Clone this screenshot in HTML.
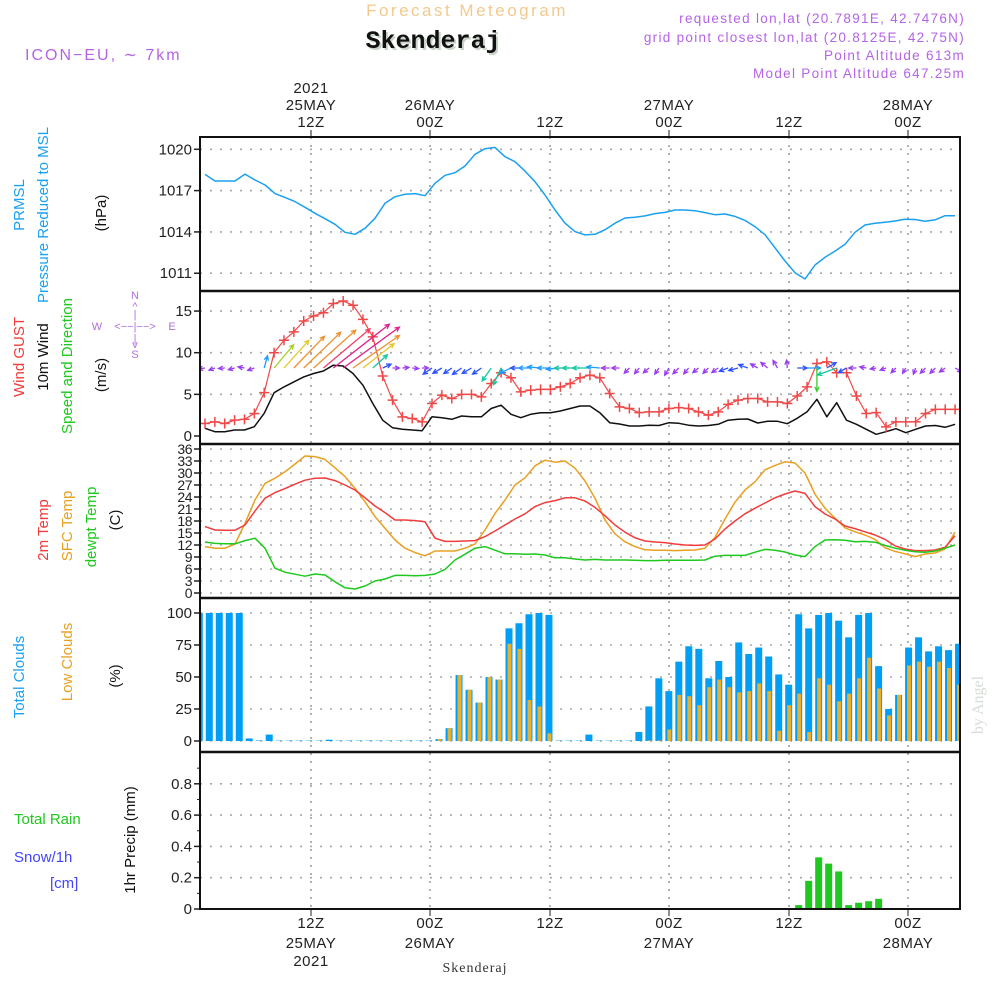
<!DOCTYPE html>
<html><head><meta charset="utf-8"><title>Meteogram Skenderaj</title>
<style>
html,body{margin:0;padding:0;background:#fff;}
svg{display:block;font-family:"Liberation Sans",sans-serif;}
.tk{font-size:15px;fill:#222;text-anchor:end;}
.tt{font-size:15px;fill:#222;text-anchor:middle;letter-spacing:0.5px;}
.lab{font-size:15px;}
</style></head>
<body>
<svg id="chart" width="1000" height="1000" viewBox="0 0 1000 1000" xmlns="http://www.w3.org/2000/svg">
<rect x="0" y="0" width="1000" height="1000" fill="#fff"/>
<text x="467" y="16" text-anchor="middle" font-size="17" fill="#f3c98e" letter-spacing="2.5">Forecast Meteogram</text>
<text x="435" y="50" text-anchor="middle" font-size="25" font-weight="bold" fill="#c8d4c8" font-family="Liberation Mono, monospace">Skenderaj</text>
<text x="433" y="48" text-anchor="middle" font-size="25" font-weight="bold" fill="#111" font-family="Liberation Mono, monospace">Skenderaj</text>
<text x="25" y="60" font-size="16" fill="#b464e6" letter-spacing="2">ICON−EU, ∼ 7km</text>
<g font-size="13.5" fill="#b464e6" text-anchor="end" letter-spacing="1.3">
<text x="965" y="23">requested lon,lat (20.7891E, 42.7476N)</text>
<text x="965" y="42">grid point closest lon,lat (20.8125E, 42.75N)</text>
<text x="965" y="60">Point Altitude 613m</text>
<text x="965" y="78">Model Point Altitude 647.25m</text>
</g>
<g class="tt">
<text class="tt" x="311" y="93">2021</text>
<text class="tt" x="311" y="110">25MAY</text>
<text class="tt" x="311" y="127">12Z</text>
<text class="tt" x="430" y="110">26MAY</text>
<text class="tt" x="430" y="127">00Z</text>
<text class="tt" x="550" y="127">12Z</text>
<text class="tt" x="669" y="110">27MAY</text>
<text class="tt" x="669" y="127">00Z</text>
<text class="tt" x="789" y="127">12Z</text>
<text class="tt" x="908" y="110">28MAY</text>
<text class="tt" x="908" y="127">00Z</text>
</g>
<g>
<text class="tt" x="311" y="928">12Z</text>
<text class="tt" x="311" y="948">25MAY</text>
<text class="tt" x="311" y="966">2021</text>
<text class="tt" x="430" y="928">00Z</text>
<text class="tt" x="430" y="948">26MAY</text>
<text class="tt" x="550" y="928">12Z</text>
<text class="tt" x="669" y="928">00Z</text>
<text class="tt" x="669" y="948">27MAY</text>
<text class="tt" x="789" y="928">12Z</text>
<text class="tt" x="908" y="928">00Z</text>
<text class="tt" x="908" y="948">28MAY</text>
<text x="475" y="972" text-anchor="middle" font-size="14" fill="#333" font-family="Liberation Serif, serif" letter-spacing="1">Skenderaj</text>
</g>
<g class="lab">
<text transform="translate(24,205) rotate(-90)" text-anchor="middle" fill="#1aa0f0">PRMSL</text>
<text transform="translate(48,215) rotate(-90)" text-anchor="middle" fill="#1aa0f0">Pressure Reduced to MSL</text>
<text transform="translate(106,213) rotate(-90)" text-anchor="middle" fill="#111">(hPa)</text>
<text transform="translate(24,357) rotate(-90)" text-anchor="middle" fill="#f03c3c">Wind GUST</text>
<text transform="translate(48,357) rotate(-90)" text-anchor="middle" fill="#111">10m Wind</text>
<text transform="translate(72,366) rotate(-90)" text-anchor="middle" fill="#1ec81e">Speed and Direction</text>
<text transform="translate(106,375) rotate(-90)" text-anchor="middle" fill="#111">(m/s)</text>
<text transform="translate(48,530) rotate(-90)" text-anchor="middle" fill="#f03c3c">2m Temp</text>
<text transform="translate(72,526) rotate(-90)" text-anchor="middle" fill="#e8a020">SFC Temp</text>
<text transform="translate(96,527) rotate(-90)" text-anchor="middle" fill="#1ec81e">dewpt Temp</text>
<text transform="translate(120,520) rotate(-90)" text-anchor="middle" fill="#111">(C)</text>
<text transform="translate(24,677) rotate(-90)" text-anchor="middle" fill="#1aa0f0">Total Clouds</text>
<text transform="translate(72,662) rotate(-90)" text-anchor="middle" fill="#e8a020">Low Clouds</text>
<text transform="translate(120,676) rotate(-90)" text-anchor="middle" fill="#111">(%)</text>
<text x="14" y="824" fill="#1ec81e">Total  Rain</text>
<text x="14" y="862" fill="#4444ff">Snow/1h</text>
<text x="50" y="888" fill="#4444ff">[cm]</text>
<text transform="translate(135,840) rotate(-90)" text-anchor="middle" fill="#111">1hr Precip (mm)</text>
</g>
<g font-size="11" fill="#b070e0" text-anchor="middle">
<text x="135" y="299">N</text><text x="135" y="310">^</text><text x="135" y="318">|</text>
<text x="97" y="330">W</text><text x="135" y="330">&lt;−−|−−&gt;</text><text x="172" y="330">E</text>
<text x="135" y="342">|</text><text x="135" y="348">v</text><text x="135" y="358">S</text>
</g>
<text transform="translate(983,705) rotate(-90)" text-anchor="middle" font-size="16" fill="#d6dcd6" font-family="Liberation Serif, serif">by Angel</text>
<g id="plot"></g>
</svg>
<script>
const pressure = [1018.18,1017.70,1017.70,1017.70,1018.20,1017.77,1017.41,1016.78,1016.51,1016.20,1015.79,1015.35,1014.96,1014.55,1013.97,1013.83,1014.26,1014.99,1016.08,1016.56,1016.73,1016.78,1016.63,1017.53,1018.11,1018.30,1018.79,1019.64,1020.04,1020.14,1019.46,1019.10,1018.42,1017.65,1016.68,1015.59,1014.63,1014.02,1013.78,1013.83,
1014.16,1014.63,1015.01,1015.06,1015.16,1015.33,1015.42,1015.59,1015.59,1015.54,1015.40,1015.25,1015.30,1015.13,1014.84,1014.38,1013.80,1012.85,1011.89,1011.04,1010.58,1011.60,1012.16,1012.61,1013.10,1013.97,1014.50,1014.63,1014.70,1014.79,1014.92,1014.90,1014.77,1014.87,1015.18,1015.18];
const gust = [1.5,1.7,1.5,1.9,2.0,2.7,5.2,10.0,11.5,12.5,13.8,14.4,14.8,15.9,16.2,15.7,14.0,11.9,7.2,4.3,2.3,2.1,1.7,3.9,4.9,4.5,5.0,5.0,4.7,6.3,7.6,7.0,5.3,5.5,5.6,5.6,5.9,6.3,7.0,7.3,
7.0,5.1,3.5,3.3,2.8,2.9,2.9,3.3,3.4,3.3,2.9,2.5,2.9,3.8,4.3,4.5,4.5,4.1,4.1,3.9,4.8,5.9,8.7,8.9,7.6,7.6,4.8,2.7,2.8,1.1,1.7,1.7,1.7,2.7,3.2,3.2,3.2];
const wind = [0.92,0.52,0.52,0.72,0.72,1.12,2.72,5.2,5.9,6.5,7.1,7.5,7.8,8.5,8.4,7.5,6.1,3.9,1.9,1.0,0.8,0.72,0.64,2.3,2.2,2.0,2.4,2.3,2.3,3.3,3.7,2.6,2.2,2.6,2.8,2.8,3.0,3.3,3.6,3.6,
2.8,1.6,1.44,1.2,1.2,1.3,1.26,1.6,1.52,1.3,1.2,1.26,1.4,1.9,2.0,2.04,1.56,1.76,1.76,1.48,2.12,2.9,4.4,2.3,4.0,1.9,1.4,0.8,0.2,0.52,0.88,0.4,0.8,1.2,1.26,1.05,1.4];
const windDir = [190,200,185,195,170,200,75,50,48,46,44,42,40,38,36,35,38,42,25,0,5,355,0,215,210,215,215,210,215,235,245,205,180,180,175,180,185,180,180,180,175,180,180,
225,230,220,235,240,225,230,220,225,215,200,195,160,150,140,120,95,0,0,270,30,200,210,180,170,190,200,225,240,250,225,225,215,330];
const temp2m = [16.6,15.75,15.7,15.7,17.0,20.5,23.7,25.1,26.1,27.2,28.2,28.7,28.75,28.1,27.0,25.75,23.8,21.75,20.1,18.25,18.25,18.1,17.8,13.7,12.9,12.9,13.0,13.1,14.1,15.5,17.0,18.5,19.8,21.6,22.6,23.1,23.8,23.8,23.0,21.4,
19.3,17.0,15.2,13.8,13.0,12.75,12.6,12.25,12.0,11.9,12.0,13.5,16.0,18.0,19.8,21.2,22.5,23.8,24.75,25.5,24.9,21.6,19.75,18.5,16.75,16.1,15.3,14.5,13.4,11.8,11.0,10.6,10.6,10.75,11.4,14.3];
const tempSfc = [11.6,11.2,11.2,12.25,17.4,23.25,27.4,28.7,30.3,32.25,34.25,34.1,33.4,31.3,29.1,26.2,22.8,19.1,16.2,13.25,11.2,10.1,9.3,10.5,10.5,10.5,11.2,12.25,15.75,19.9,23.25,27.0,28.8,31.8,33.2,32.7,33.0,31.2,28.0,23.7,
18.25,14.8,12.8,11.6,10.8,10.7,10.7,10.6,10.7,10.75,11.2,13.9,18.5,22.7,25.75,27.8,30.8,31.9,32.8,32.5,30.0,24.7,21.2,18.7,16.3,15.3,14.5,13.4,11.3,10.4,9.8,9.1,9.75,10.0,11.0,15.2];
const dewpt = [12.75,12.4,12.3,12.3,13.1,13.7,11.2,6.2,5.2,4.7,4.2,4.75,4.5,2.8,1.3,1.0,1.75,3.0,3.5,4.4,4.4,4.3,4.4,4.75,5.9,8.25,9.7,11.2,11.6,10.7,9.8,9.8,9.7,9.75,9.5,8.8,8.8,8.5,8.25,8.4,
8.25,8.25,8.25,8.2,8.1,8.1,8.2,8.2,8.2,8.2,8.25,9.2,9.4,9.4,9.4,10.2,10.9,10.7,10.25,9.5,9.1,11.6,13.25,13.3,13.2,12.8,12.9,12.7,11.9,11.2,10.7,10.3,10.2,10.5,11.2,12.0];
const totalClouds = [100,100,100,100,100,2,0.4,5,0.3,0.3,0.3,0.3,0.3,1,0.3,0.3,0.3,0.3,0.3,0.3,0.3,0.3,0.3,0.3,1.5,10,51.5,40,30,50,48,88,92,99,100,98.5,0.3,0.3,0.3,5,0.3,0.3,0.3,0.3,7,27,49,39,62,74,72,49,62.5,50,77,68,73,66,52,44,99,88,98.5,100,94,81,98.5,100,58.5,25,36,73,81,70,74,71,76];
const lowClouds = [0,0,0,0,0,0,0,0,0,0,0,0,0,0,0,0,0,0,0,0,0,0,0,0,1.5,10,51.5,40,30,50,48,76,72,32,27,6,0,0,0,0,0,0,0,0,0,0.5,0.5,9,36,35,28,42,48,42,38,39,45,39,8,28,37,7,49,44,31,37,49,65,41,20,36,59,62,58,62,57,44];
const precip = [0,0,0,0,0,0,0,0,0,0,0,0,0,0,0,0,0,0,0,0,0,0,0,0,0,0,0,0,0,0,0,0,0,0,0,0,0,0,0,0,0,0,0,0,0,0,0,0,0,0,0,0,0,0,0,0,0,0,0,0,0.025,0.18,0.33,0.29,0.24,0.025,0.04,0.05,0.065,0,0,0,0,0,0,0,0];
const pTicks = [1020,1017,1014,1011];
const wTicks = [15,10,5,0];
const tTicks = [0,3,6,9,12,15,18,21,24,27,30,33,36];
const cTicks = [0,25,50,75,100];
const rTicks = [0,0.2,0.4,0.6,0.8];
const dayGridX = [311,430,550,669,789,908];

const X0 = 200, X1 = 960;
function xL(i){ return 205 + i*9.87; }
function xT(i){ return 205 + i*10; }
function xB(i){ return 199.3 + i*9.99; }
function yP(p){ return 149.3 + (1020-p)*13.77; }
function yW(v){ return 436 - v*8.33; }
function yT(t){ return 593 - t*4; }
function yC(c){ return 741 - c*1.28; }
function yR(r){ return 909 - r*156.5; }

const NS = 'http://www.w3.org/2000/svg';
const plot = document.getElementById('plot');
function el(tag, attrs, parent){
  const e = document.createElementNS(NS, tag);
  for (const k in attrs) e.setAttribute(k, attrs[k]);
  (parent||plot).appendChild(e);
  return e;
}

const defs = el('defs', {});
const panels = [[137,291],[291,444],[444,598],[598,752],[752,909]];
panels.forEach((p,i)=>{
  const cp = el('clipPath', {id:'clip'+i}, defs);
  el('rect', {x:X0, y:p[0], width:X1-X0, height:p[1]-p[0]}, cp);
});

const grid = el('g', {});


function hgrid(y){
  const l = el('line', {x1:X0, x2:X1, y1:y, y2:y, stroke:'#a8a8a8', 'stroke-width':1.6, 'stroke-dasharray':'2 8'}, grid);
  
  
}
function tick(y, label, yoff, cls, name){
  const l = el('line', {x1:X0-6, x2:X0, y1:y, y2:y, stroke:'#222', 'stroke-width':1.5}, grid);
  
  
  const t = el('text', {x:X0-8, y:y+yoff, class:'tk'}, grid);
  if (cls) t.setAttribute('style', cls);
  t.textContent = label;
  
  
}
pTicks.forEach(v=>{ hgrid(yP(v)); tick(yP(v), v, 5, null, 'pressure-tick-label'); });
wTicks.forEach(v=>{ if(v>0) hgrid(yW(v)); tick(yW(v), v, 5, null, 'wind-tick-label'); });
tTicks.forEach(v=>{ hgrid(yT(v)); tick(yT(v), v, 5, 'font-size:14px;letter-spacing:-0.5px', 'temp-tick-label'); });
cTicks.forEach(v=>{ hgrid(yC(v)); tick(yC(v), v, 5, null, 'cloud-tick-label'); });
rTicks.forEach(v=>{ if(v>0) hgrid(yR(v)); tick(yR(v), v===0?'0':v.toFixed(1), 5, null, 'precip-tick-label'); });
[0.1,0.3,0.5,0.7,0.9].forEach(v=>{
  const l = el('line', {x1:X0-3, x2:X0, y1:yR(v), y2:yR(v), stroke:'#222', 'stroke-width':1}, grid);
  
  
});
dayGridX.forEach(x=>{
  const l = el('line', {x1:x, x2:x, y1:137, y2:909, stroke:'#a0a0a0', 'stroke-width':1.6, 'stroke-dasharray':'2 6'}, grid);
  
  
  const t1 = el('line', {x1:x, x2:x, y1:130, y2:137, stroke:'#222', 'stroke-width':1}, grid);
  
  
  const t2 = el('line', {x1:x, x2:x, y1:909, y2:916, stroke:'#222', 'stroke-width':1}, grid);
  
  
});

function linePath(arr, xs, ys, color, name, clip, w){
  const pts = arr.map((v,i)=> xs(i).toFixed(1)+','+ys(v).toFixed(1)).join(' ');
  const p = el('polyline', {points:pts, fill:'none', stroke:color, 'stroke-width':w||1.5, 'stroke-linejoin':'round', 'clip-path':'url(#clip'+clip+')'});
  
  
  return p;
}

linePath(pressure, xT, yP, '#1aa0f0', 'pressure-line', 0);

const cg = el('g', {'clip-path':'url(#clip3)'});


totalClouds.forEach((v,i)=>{
  const x = xB(i);
  const r = el('rect', {x:x-3.5, y:yC(v), width:7, height:yC(0)-yC(v), fill:'#009ff5'}, cg);
  
  
  const lv = lowClouds[i];
  if (lv > 0) {
    const r2 = el('rect', {x:x-1.5, y:yC(lv), width:4, height:yC(0)-yC(lv), fill:'#e8b030'}, cg);
    
    
  }
});

const rg = el('g', {'clip-path':'url(#clip4)'});


precip.forEach((v,i)=>{
  if (v <= 0) return;
  const r = el('rect', {x:xB(i)-3.5, y:yR(v), width:7, height:yR(0)-yR(v), fill:'#1ec81e'}, rg);
  
  
});

linePath(tempSfc, xT, yT, '#e8a020', 'sfc-temp-line', 2);
linePath(temp2m, xT, yT, '#f03c3c', 'temp-2m-line', 2);
linePath(dewpt, xT, yT, '#1ec81e', 'dewpoint-line', 2);

linePath(wind, xL, yW, '#111', 'wind-speed-line', 1);
linePath(gust, xL, yW, '#f04848', 'gust-line', 1, 1.2);
const gm = el('g', {stroke:'#f04848', 'stroke-width':1.5, 'clip-path':'url(#clip1)'});


gust.forEach((v,i)=>{
  const x = xL(i), y = yW(v);
  const p = el('path', {d:`M${x-5} ${y}H${x+5}M${x} ${y-5}V${y+5}`}, gm);
  
  
});
function windColor(s){
  if (s < 1.8) return '#9a3cf0';
  if (s < 2.5) return '#2b50ff';
  if (s < 3.3) return '#1e9bff';
  if (s < 4.2) return '#14c8a0';
  if (s < 5.0) return '#3ccc28';
  if (s < 5.6) return '#a8d020';
  if (s < 6.3) return '#e6c828';
  if (s < 7.6) return '#f09030';
  if (s < 8.2) return '#f0406a';
  return '#e0208c';
}
const ag = el('g', {'clip-path':'url(#clip1)', fill:'none', 'stroke-width':1.3});


windDir.forEach((d,i)=>{
  const s = wind[i];
  const L = 6 + 0.9*s*s;
  const a = d*Math.PI/180;
  const x0 = xL(i), y0 = 368;
  const x1 = x0 + L*Math.cos(a), y1 = y0 - L*Math.sin(a);
  const h = 5, b1 = a + Math.PI - 0.45, b2 = a + Math.PI + 0.45;
  const c = windColor(s);
  const p = el('path', {d:`M${x0.toFixed(1)} ${y0}L${x1.toFixed(1)} ${y1.toFixed(1)}M${(x1+h*Math.cos(b1)).toFixed(1)} ${(y1-h*Math.sin(b1)).toFixed(1)}L${x1.toFixed(1)} ${y1.toFixed(1)}L${(x1+h*Math.cos(b2)).toFixed(1)} ${(y1-h*Math.sin(b2)).toFixed(1)}`, stroke:c}, ag);
  
  
});

const fg = el('g', {stroke:'#111', fill:'none'});


const fr = el('rect', {x:X0, y:137, width:X1-X0, height:909-137, 'stroke-width':2}, fg);


[291,444,598,752].forEach(y=>{
  const l = el('line', {x1:X0, x2:X1, y1:y, y2:y, 'stroke-width':2.5}, fg);
  
  
});
</script>
</body></html>
